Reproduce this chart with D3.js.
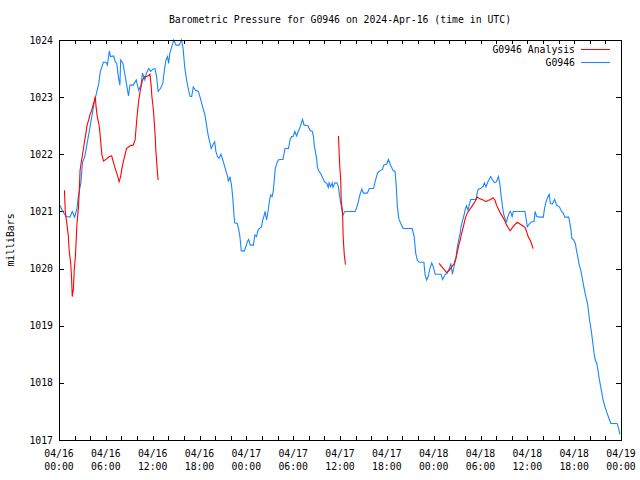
<!DOCTYPE html>
<html>
<head>
<meta charset="utf-8">
<script src="https://cdn.jsdelivr.net/npm/d3@7"></script>
<style>
  html, body { margin: 0; padding: 0; background: #fff; }
  svg { display: block; }
  text { font-family: "DejaVu Sans Mono", "Liberation Mono", monospace; font-size: 9.8px; fill: #000; }
</style>
</head>
<body>
<svg id="chart" width="640" height="480"></svg>
<script>
// ---- Data (hours since 2024-04-16 00:00 UTC, pressure in mbar) ----
const titleText = "Barometric Pressure for G0946 on 2024-Apr-16 (time in UTC)";
const yLabel = "milliBars";
const seriesNames = ["G0946 Analysis", "G0946"];
const yTicks = [1017, 1018, 1019, 1020, 1021, 1022, 1023, 1024];
const xTickHours = [0, 6, 12, 18, 24, 30, 36, 42, 48, 54, 60, 66, 72];
const xDateLabels = ["04/16","04/16","04/16","04/16","04/17","04/17","04/17","04/17","04/18","04/18","04/18","04/18","04/19"];
const xTimeLabels = ["00:00","06:00","12:00","18:00","00:00","06:00","12:00","18:00","00:00","06:00","12:00","18:00","00:00"];

const stationHours = [
  0.1,0.5,0.9,1.4,1.7,2.0,2.3,2.5,2.8,3.0,3.3,3.6,3.9,4.2,4.5,4.8,5.1,5.3,5.7,6.0,
  6.2,6.45,6.6,7.0,7.2,7.4,7.6,7.8,7.9,8.2,8.45,8.75,8.9,9.1,9.5,9.9,10.2,10.5,10.7,11.0,
  11.2,11.5,11.75,12.0,12.3,12.5,12.7,13.0,13.3,13.5,13.7,13.9,14.05,14.2,14.5,14.7,15.0,15.4,15.7,15.9,
  16.1,16.35,16.6,16.8,17.0,17.2,17.5,17.85,18.05,18.4,18.7,18.9,19.1,19.35,19.5,19.8,19.95,20.1,20.3,20.5,
  20.75,21.05,21.3,21.6,21.7,21.9,22.1,22.25,22.4,22.5,22.85,23.0,23.15,23.3,23.35,23.75,23.95,24.1,24.3,24.5,
  24.9,25.1,25.3,25.45,25.65,25.95,26.1,26.3,26.4,26.6,26.8,26.95,27.1,27.3,27.45,27.6,27.7,27.9,28.1,28.3,
  28.7,28.95,29.4,29.6,29.8,30.0,30.2,30.45,30.65,30.9,31.1,31.2,31.4,31.9,32.15,32.45,32.6,32.7,32.8,33.0,
  33.1,33.3,33.5,33.8,34.0,34.3,34.5,34.6,34.8,35.0,35.1,35.35,35.6,35.8,35.9,36.1,36.25,36.4,36.6,37.3,
  37.95,38.1,38.35,38.55,38.8,39.0,39.5,39.75,40.3,40.5,40.8,41.1,41.45,41.6,42.0,42.2,42.5,42.8,43.05,43.2,
  43.35,43.55,43.9,44.1,44.55,45.25,45.5,45.7,45.9,46.15,46.75,46.9,47.1,47.3,47.5,47.75,47.95,48.2,48.95,49.15,
  49.45,49.75,50.0,50.2,50.4,50.65,50.85,51.0,51.2,51.4,51.5,51.7,51.9,52.05,52.2,52.4,52.55,52.75,53.4,53.7,
  54.0,54.35,54.5,54.7,54.95,55.3,55.55,55.8,56.05,56.3,56.5,56.65,56.85,57.0,57.2,57.35,57.5,57.7,57.85,58.05,
  58.2,59.7,60.0,60.25,60.55,60.85,61.0,61.2,61.6,62.05,62.2,62.4,62.6,62.8,62.95,63.2,63.5,63.75,64.1,64.4,
  64.6,64.8,65.3,65.45,65.6,65.7,65.95,66.15,66.3,66.5,66.65,66.85,67.0,67.2,67.35,67.5,67.7,67.85,68.0,68.2,
  68.4,68.55,68.7,68.9,69.05,69.2,69.4,69.55,69.7,69.95,70.2,70.45,70.7,71.5,71.7,71.85
];
const stationPressure = [
  1021.11,1021.0,1020.91,1020.9,1021.0,1020.9,1021.05,1021.29,1021.5,1021.85,1021.96,1022.19,1022.42,1022.66,1022.89,1023.07,1023.24,1023.45,1023.61,1023.61,
  1023.56,1023.81,1023.71,1023.72,1023.62,1023.59,1023.36,1023.21,1023.65,1023.59,1023.39,1023.15,1023.02,1023.21,1023.21,1023.3,1023.12,1023.21,1023.42,1023.3,
  1023.42,1023.5,1023.45,1023.49,1023.5,1023.36,1023.1,1023.15,1023.24,1023.47,1023.65,1023.71,1023.59,1023.77,1023.91,1024.0,1023.91,1023.91,1024.0,1023.85,
  1023.53,1023.3,1023.12,1023.01,1023.01,1023.18,1023.12,1023.1,1023.01,1022.83,1022.69,1022.51,1022.34,1022.19,1022.1,1022.19,1022.22,1022.05,1021.96,1021.93,
  1022.0,1021.87,1021.75,1021.61,1021.52,1021.61,1021.46,1021.26,1020.97,1020.8,1020.79,1020.7,1020.59,1020.39,1020.31,1020.31,1020.39,1020.46,1020.51,1020.41,
  1020.41,1020.59,1020.56,1020.65,1020.7,1020.73,1020.85,1020.94,1021.0,1020.85,1021.02,1021.17,1021.29,1021.26,1021.35,1021.58,1021.75,1021.84,1021.9,1021.91,
  1021.91,1022.1,1022.1,1022.25,1022.31,1022.31,1022.4,1022.32,1022.4,1022.48,1022.57,1022.61,1022.51,1022.5,1022.42,1022.4,1022.31,1022.16,1022.08,1021.93,
  1021.78,1021.7,1021.67,1021.58,1021.52,1021.49,1021.42,1021.5,1021.43,1021.5,1021.42,1021.5,1021.5,1021.43,1021.32,1021.14,1021.02,1020.94,1021.0,1021.0,
  1021.0,1021.05,1021.17,1021.29,1021.39,1021.32,1021.32,1021.4,1021.4,1021.52,1021.67,1021.71,1021.74,1021.81,1021.83,1021.91,1021.8,1021.72,1021.7,1021.46,
  1021.08,1020.86,1020.76,1020.7,1020.7,1020.7,1020.56,1020.27,1020.15,1020.11,1020.11,1019.89,1019.8,1019.86,1019.99,1020.1,1020.03,1019.9,1019.9,1019.81,
  1019.89,1019.92,1020.0,1020.09,1019.9,1020.06,1020.18,1020.35,1020.5,1020.62,1020.73,1020.84,1020.94,1021.04,1021.1,1021.02,1021.11,1021.21,1021.21,1021.39,
  1021.4,1021.44,1021.5,1021.43,1021.52,1021.61,1021.55,1021.5,1021.52,1021.61,1021.46,1021.26,1021.05,1020.94,1020.85,1020.82,1020.91,1020.98,1021.0,1020.91,
  1021.0,1021.0,1020.73,1020.78,1020.82,1020.82,1021.0,1020.91,1020.9,1020.9,1021.05,1021.17,1021.25,1021.3,1021.14,1021.13,1021.21,1021.11,1021.08,1021.0,
  1020.97,1020.9,1020.9,1020.79,1020.67,1020.53,1020.5,1020.44,1020.32,1020.18,1020.06,1019.97,1019.86,1019.71,1019.6,1019.51,1019.39,1019.24,1019.07,1018.9,
  1018.69,1018.52,1018.4,1018.34,1018.22,1018.08,1017.93,1017.82,1017.7,1017.58,1017.48,1017.38,1017.29,1017.29,1017.2,1017.1
];

// Analysis series: null separates the three runs
const analysisHours = [
  0.7,0.8,1.0,1.2,1.3,1.5,1.6,1.7,1.85,1.95,2.1,2.2,2.3,2.5,2.6,2.7,2.9,3.1,3.3,3.45,
  3.6,3.8,3.95,4.15,4.3,4.5,4.65,4.75,4.9,5.1,5.25,5.4,5.5,5.7,6.1,6.45,6.75,6.95,7.2,7.4,
  7.6,7.7,7.9,8.05,8.25,8.45,8.65,9.1,9.5,9.75,9.85,10.0,10.1,10.25,10.4,10.55,10.7,11.0,11.2,11.5,
  11.65,11.8,11.9,12.1,12.25,12.35,12.4,12.5,12.6,12.7,
  null,
  35.8,35.85,35.95,36.1,36.15,36.3,36.35,36.4,36.55,36.7,
  null,
  48.7,49.0,49.3,49.65,50.0,50.3,50.6,50.85,51.05,51.2,51.4,51.55,51.75,51.9,52.05,52.3,52.55,52.85,53.15,53.4,
  53.6,53.9,54.35,54.7,54.95,55.3,55.6,55.85,56.05,56.3,56.55,56.85,57.1,57.35,57.6,57.8,58.1,58.4,58.7,59.05,
  59.4,59.7,59.9,60.1,60.35,60.55,60.75
];
const analysisPressure = [
  1021.37,1021.0,1020.79,1020.56,1020.32,1020.09,1019.86,1019.51,1019.65,1019.97,1020.21,1020.5,1020.79,1021.08,1021.37,1021.72,1021.9,1022.07,1022.25,1022.37,
  1022.51,1022.6,1022.69,1022.75,1022.83,1022.92,1023.01,1022.83,1022.66,1022.54,1022.37,1022.13,1021.99,1021.88,1021.92,1021.96,1021.97,1021.87,1021.75,1021.67,
  1021.58,1021.52,1021.61,1021.75,1021.87,1021.99,1022.1,1022.15,1022.16,1022.25,1022.42,1022.66,1022.8,1022.98,1023.1,1023.21,1023.3,1023.36,1023.36,1023.38,
  1023.4,1023.21,1023.01,1022.77,1022.48,1022.25,1022.07,1021.9,1021.7,1021.55,
  null,
  1022.32,1022.16,1021.84,1021.52,1021.2,1021.02,1020.88,1020.56,1020.24,1020.07,
  null,
  1020.09,1020.04,1019.99,1019.93,1019.97,1020.03,1020.08,1020.18,1020.3,1020.4,1020.5,1020.6,1020.7,1020.79,1020.88,1020.97,1021.02,1021.08,1021.14,1021.2,
  1021.25,1021.22,1021.2,1021.17,1021.19,1021.21,1021.24,1021.2,1021.11,1021.04,1020.97,1020.9,1020.84,1020.76,1020.7,1020.66,1020.72,1020.77,1020.81,1020.78,
  1020.75,1020.72,1020.65,1020.56,1020.5,1020.43,1020.35
];

// ---- Drawing ----
const svg = d3.select("#chart");
const plot = { left: 59, right: 621, top: 40, bottom: 440 };
const colors = { analysis: "#ff0000", station: "#1a86ff" };

const x = d3.scaleLinear().domain([0, 72]).range([plot.left, plot.right]);
const y = d3.scaleLinear().domain([1017, 1024]).range([plot.bottom, plot.top]);

// Title
svg.append("text")
  .attr("x", (plot.left + plot.right) / 2)
  .attr("y", 23)
  .attr("text-anchor", "middle")
  .text(titleText);

// Y axis label
svg.append("text")
  .attr("transform", `translate(14,${(plot.top + plot.bottom) / 2}) rotate(-90)`)
  .attr("text-anchor", "middle")
  .text(yLabel);

// Minor x ticks every 2 hours (top and bottom, inward)
const minorHours = d3.range(0, 73, 2);
const tickG = svg.append("g").attr("stroke", "#000").attr("shape-rendering", "crispEdges");
minorHours.forEach(h => {
  const px = Math.round(x(h)) + 0.5;
  tickG.append("line").attr("x1", px).attr("x2", px).attr("y1", plot.bottom).attr("y2", plot.bottom - 4);
  tickG.append("line").attr("x1", px).attr("x2", px).attr("y1", plot.top).attr("y2", plot.top + 4);
});
yTicks.forEach(v => {
  const py = Math.round(y(v)) + 0.5;
  tickG.append("line").attr("x1", plot.left).attr("x2", plot.left + 5).attr("y1", py).attr("y2", py);
  tickG.append("line").attr("x1", plot.right).attr("x2", plot.right - 5).attr("y1", py).attr("y2", py);
});

// Y tick labels
svg.append("g").selectAll("text").data(yTicks).join("text")
  .attr("x", plot.left - 6)
  .attr("y", d => y(d) + 3.5)
  .attr("text-anchor", "end")
  .text(d => d);

// X tick labels (two lines)
const xl = svg.append("g").selectAll("text").data(xTickHours).join("text")
  .attr("text-anchor", "middle");
xl.append("tspan").attr("x", d => x(d)).attr("y", 457).text((d, i) => xDateLabels[i]);
xl.append("tspan").attr("x", d => x(d)).attr("y", 469.5).text((d, i) => xTimeLabels[i]);

// Lines
const stationData = stationHours.map((h, i) => [h, stationPressure[i]]);
const analysisData = analysisHours.map((h, i) => [h, analysisPressure[i]]);
const line = d3.line()
  .defined(d => d[0] !== null && d[1] !== null)
  .x(d => x(d[0]))
  .y(d => y(d[1]));

svg.append("path").datum(stationData)
  .attr("d", line)
  .attr("fill", "none").attr("stroke", colors.station).attr("stroke-width", 1.1);
svg.append("path").datum(analysisData)
  .attr("d", line)
  .attr("fill", "none").attr("stroke", colors.analysis).attr("stroke-width", 1.1);

// Border
svg.append("rect")
  .attr("x", plot.left + 0.5).attr("y", plot.top + 0.5)
  .attr("width", plot.right - plot.left).attr("height", plot.bottom - plot.top)
  .attr("fill", "none").attr("stroke", "#000").attr("shape-rendering", "crispEdges");

// Legend
const legend = svg.append("g");
[[seriesNames[0], colors.analysis], [seriesNames[1], colors.station]].forEach((d, i) => {
  const ly = 49 + i * 13;
  legend.append("text").attr("x", 575).attr("y", ly + 4).attr("text-anchor", "end").text(d[0]);
  legend.append("line").attr("x1", 581).attr("x2", 610).attr("y1", ly + 0.5).attr("y2", ly + 0.5)
    .attr("stroke", d[1]).attr("stroke-width", 1).attr("shape-rendering", "crispEdges");
});
</script>
</body>
</html>
